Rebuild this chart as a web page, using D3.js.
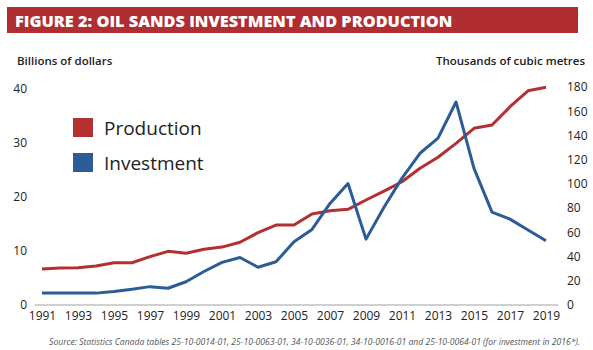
<!DOCTYPE html>
<html>
<head>
<meta charset="utf-8">
<script src="https://cdn.jsdelivr.net/npm/d3@7"></script>
<style>
  html, body { margin: 0; padding: 0; background: #fff; }
  svg { display: block; }
  text { font-family: "Open Sans", "DejaVu Sans", sans-serif; }
</style>
</head>
<body>
<svg id="chart" width="593" height="350"></svg>
<script>
// Oil sands: annual investment (billions $) and production (thousand m³)
const years = d3.range(1991, 2020);
const investment = [2.2, 2.2, 2.2, 2.2, 2.5, 2.9, 3.4, 3.1, 4.3, 6.2,
                    7.9, 8.8, 7.0, 8.0, 11.7, 14.0, 18.8, 22.5, 12.2, 18.1,
                    23.5, 28.1, 30.9, 37.6, 25.3, 17.2, 15.9, 13.9, 11.9];
const production = [29.7, 30.5, 30.8, 32.2, 34.9, 34.9, 39.9, 44.3, 42.7, 46.0,
                    47.8, 51.8, 59.7, 66.0, 66.0, 75.1, 77.9, 79.0, 86.7, 94.0,
                    101.8, 112.9, 122.0, 133.5, 145.9, 148.6, 163.7, 176.9, 179.8];
const leftTicks = [0, 10, 20, 30, 40];
const rightTicks = [0, 20, 40, 60, 80, 100, 120, 140, 160, 180];
const xTickYears = d3.range(1991, 2020, 2);

const RED = "#b2302f";
const BLUE = "#2c5c98";

const svg = d3.select("#chart");

// Title banner
svg.append("rect").attr("x", 7).attr("y", 7).attr("width", 571).attr("height", 26).attr("fill", "#b02d32");
svg.append("text").attr("x", 15).attr("y", 26.5)
  .attr("fill", "#fff").attr("font-size", 16.3).attr("font-weight", 800)
  .text("FIGURE 2: OIL SANDS INVESTMENT AND PRODUCTION");

// Axis titles
svg.append("text").attr("x", 17).attr("y", 65).attr("font-size", 11.5).attr("font-weight", 600)
  .attr("fill", "#222").text("Billions of dollars");
svg.append("text").attr("x", 585).attr("y", 65).attr("font-size", 11.5).attr("font-weight", 600)
  .attr("text-anchor", "end").attr("fill", "#222").text("Thousands of cubic metres");

// Scales
const x = d3.scaleLinear().domain([1991, 2019]).range([42, 546]);
const yL = d3.scaleLinear().domain([0, 40]).range([305, 89]);
const yR = d3.scaleLinear().domain([0, 180]).range([305, 87]);

// Baseline
svg.append("line").attr("x1", 35).attr("x2", 558).attr("y1", 305).attr("y2", 305)
  .attr("stroke", "#d0d0d0").attr("stroke-width", 2);

// Left axis
const axL = svg.append("g").attr("transform", "translate(27,0)")
  .call(d3.axisLeft(yL).tickValues(leftTicks).tickSize(0).tickPadding(0));
axL.select(".domain").remove();
axL.selectAll("text").attr("font-size", 12).attr("fill", "#222")
  .attr("font-family", "'Open Sans', sans-serif");

// Right axis
const axR = svg.append("g").attr("transform", "translate(567,0)")
  .call(d3.axisRight(yR).tickValues(rightTicks).tickSize(0).tickPadding(0));
axR.select(".domain").remove();
axR.selectAll("text").attr("font-size", 12).attr("fill", "#222")
  .attr("font-family", "'Open Sans', sans-serif");

// Bottom axis
const axB = svg.append("g").attr("transform", "translate(0,307)")
  .call(d3.axisBottom(x).tickValues(xTickYears).tickFormat(d3.format("d")).tickSize(0).tickPadding(4));
axB.select(".domain").remove();
axB.selectAll("text").attr("font-size", 12).attr("fill", "#222")
  .attr("font-family", "'Open Sans', sans-serif");

// Lines
const lineL = d3.line().x((d, i) => x(years[i])).y(d => yL(d));
const lineR = d3.line().x((d, i) => x(years[i])).y(d => yR(d));

svg.append("path").datum(production).attr("d", lineR)
  .attr("fill", "none").attr("stroke", RED).attr("stroke-width", 3).attr("stroke-linejoin", "round");
svg.append("path").datum(investment).attr("d", lineL)
  .attr("fill", "none").attr("stroke", BLUE).attr("stroke-width", 3).attr("stroke-linejoin", "round");

// Legend
const legend = [{ name: "Production", color: RED }, { name: "Investment", color: BLUE }];
const lg = svg.append("g");
legend.forEach((d, i) => {
  const yy = 118 + i * 35;
  lg.append("rect").attr("x", 73).attr("y", yy).attr("width", 20).attr("height", 19).attr("fill", d.color);
  lg.append("text").attr("x", 104).attr("y", yy + 17).attr("font-size", 19).attr("font-weight", 500)
    .attr("fill", "#222").text(d.name);
});

// Source note
svg.append("text").attr("x", 580).attr("y", 345).attr("text-anchor", "end")
  .attr("font-size", 8.6).attr("font-style", "italic").attr("fill", "#555")
  .text("Source: Statistics Canada tables 25-10-0014-01, 25-10-0063-01, 34-10-0036-01, 34-10-0016-01 and 25-10-0064-01 (for investment in 2016*).");
</script>
</body>
</html>
